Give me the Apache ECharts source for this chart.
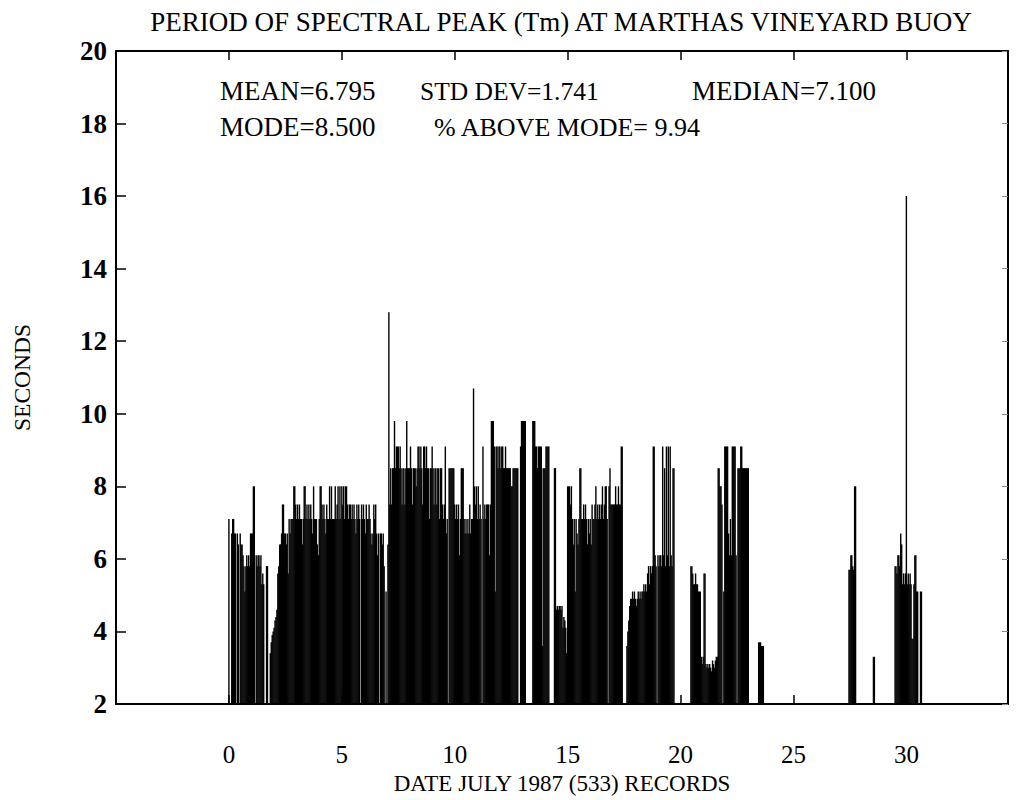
<!DOCTYPE html>
<html><head><meta charset="utf-8">
<script src="https://cdn.jsdelivr.net/npm/echarts@6/dist/echarts.min.js"></script>
<style>html,body{margin:0;background:#fff}#c{width:1020px;height:800px}</style>
</head><body><div id="c"></div>
<script>
// ---- text ----
const chartTitle = 'PERIOD OF SPECTRAL PEAK (Tm) AT MARTHAS VINEYARD BUOY';
const xName = 'DATE JULY 1987 (533) RECORDS';
const yName = 'SECONDS';
const statsRow1 = ['MEAN=6.795', 'STD DEV=1.741', 'MEDIAN=7.100'];
const statsRow2 = ['MODE=8.500', '% ABOVE MODE= 9.94'];

// ---- axes ----
const xMin = -5, xMax = 34.5, xStep = 5;
const xLabelMax = 30;
const yMin = 2, yMax = 20, yStep = 2;

// ---- hourly records (hour index from day 0, value in seconds; null = no record) ----
const seg1Start = 0;
const seg1Values = [
 7.1,null,null,6.7,7.1,7.1,6.7,6.7,null,6.7,
 6.4,null,6.7,6.4,6.4,6.1,5.8,5.1,5.8,6.1,
 5.8,6.1,5.8,6.7,6.7,6.7,8.0,8.0,null,6.1,
 5.8,6.1,6.1,5.8,6.1,5.3,5.6,5.3,null,null,
 5.8,5.8,null,null,3.4,3.7,3.9,4.0,4.1,4.3,
 4.4,4.6,5.6,5.8,6.4,6.4,6.7,7.5,7.5,6.7,
 6.7,6.4,6.7,5.6,7.1,6.7,7.1,7.1,7.1,8.0,
 8.0,7.5,7.1,7.5,7.1,7.5,7.1,7.1,6.4,7.1,
 8.0,8.0,7.1,7.5,7.1,7.5,7.1,7.5,7.1,6.7,
 8.0,7.1,7.1,7.1,6.4,6.1,7.1,8.0,8.0,7.5,
 7.1,7.5,7.1,6.7,7.5,7.1,7.1,8.0,7.1,8.0,
 7.1,7.1,7.1,8.0,7.1,7.5,8.0,7.1,8.0,7.1,
 8.0,7.5,8.0,7.1,8.0,8.0,7.5,7.1,7.5,7.5,
 7.1,7.5,7.1,7.5,7.1,6.7,7.5,7.1,7.5,7.1,
 null,7.5,7.1,7.5,7.1,6.7,7.5,7.1,7.1,7.5,
 7.1,6.7,6.4,6.7,7.5,7.1,7.5,6.7,6.1,6.7,
 null,6.7,6.7,6.4,6.7,5.8,null,5.1,null,6.4,
 12.8,7.5,8.5,7.5,8.5,8.5,9.8,8.5,9.1,9.1,
 9.1,8.5,9.1,8.5,7.5,8.5,8.5,7.5,8.5,9.8,
 8.5,8.5,8.5,9.1,8.5,7.5,8.5,8.5,8.5,8.0,
 8.5,9.1,9.1,8.5,9.1,8.5,7.5,9.1,9.1,8.5,
 9.1,8.5,8.5,7.1,8.5,8.5,9.1,8.5,7.5,8.5,
 8.5,7.5,8.5,8.5,7.1,8.5,8.5,7.5,7.1,7.5,
 9.1,6.7,7.1,null,8.5,8.5,8.5,8.5,8.5,8.5,
 7.5,7.1,7.5,7.1,7.5,6.1,7.1,8.5,8.5,8.5,
 7.1,6.7,7.1,6.7,7.1,6.7,7.5,6.7,7.1,7.1,
 10.7,8.0,7.5,8.0,7.1,8.0,7.1,7.5,7.1,null,
 9.1,7.1,7.5,7.1,7.5,7.5,7.5,6.1,7.5,9.8,
 9.8,9.8,9.1,5.1,9.1,9.1,8.5,9.1,9.1,8.5,
 9.1,9.1,8.5,8.5,9.1,8.5,8.5,8.5,8.5,8.5,
 8.0,8.0,8.5,8.5,8.5,8.5,8.5,8.5,null,null,
 9.1,9.8,9.8,9.8,9.8,9.8,null,null,null,null,
 null,null,null,9.8,9.8,9.8,9.1,9.1,8.5,9.1,
 9.1,9.1,9.1,3.6,8.5,8.5,8.5,9.1,9.1,9.1,
 9.1,null,null,null,null,null,8.5,8.5,4.6,4.7,
 4.6,4.7,4.7,4.6,4.7,4.1,4.4,4.3,4.1,3.4,
 8.0,8.0,8.0,7.5,8.0,7.1,6.4,7.1,5.1,7.1,
 6.7,6.4,7.1,8.5,8.5,7.1,7.1,7.5,7.1,7.5,
 7.1,6.4,7.1,6.7,7.1,6.4,7.5,7.1,7.1,7.5,
 8.0,7.1,7.5,7.1,7.5,7.1,7.5,8.0,7.1,7.5,
 8.0,8.0,7.1,null,8.0,8.5,7.5,7.5,7.5,7.5,
 7.5,8.0,7.5,7.5,8.0,7.5,7.5,9.1,9.1
];
const seg2Start = 423;
const seg2Values = [
 3.6,4.0,4.3,4.7,4.9,4.9,5.1,
 4.9,5.1,4.9,4.7,4.9,5.1,4.9,5.1,4.9,5.1,
 5.1,5.3,5.1,5.3,5.1,5.6,5.8,5.3,5.8,5.6,
 5.8,9.1,9.1,6.1,5.8,null,6.1,5.8,6.1,6.1,
 5.8,9.1,6.1,8.5,5.8,9.1,6.1,9.1,5.8,9.1,
 6.1,5.8,8.5,8.5
];
const seg3Start = 491;
const seg3Values = [
 5.8,5.8,5.6,5.3,5.3,5.6,5.3,5.3,5.1,
 5.1,5.1,3.3,3.1,3.3,5.6,5.6,3.1,3.0,3.1,
 3.0,3.1,3.0,2.9,3.2,3.1,3.0,3.2,3.3,3.3,
 8.5,8.5,8.0,8.0,7.5,null,5.1,9.1,9.1,9.1,
 9.1,6.7,6.1,7.1,6.1,9.1,9.1,9.1,9.1,6.1,
 null,8.5,8.5,8.5,9.1,9.1,8.5,8.5,8.5,8.5,
 8.5,8.5,8.5
];
const seg4Start = 563;
const seg4Values = [3.7,3.7,3.7,3.6,3.6,3.6];
const seg5Start = 659;
const seg5Values = [5.7,5.7,6.1,6.1,5.8,5.7,8.0,8.0];
const seg6Start = 685;
const seg6Values = [3.3,3.3];
const seg7Start = 708;
const seg7Values = [
 5.8,5.8,5.6,6.1,6.1,5.8,6.7,6.4,5.3,5.6,
 5.3,5.6,16.0,5.3,5.6,5.3,5.6,5.3,3.8,3.8,
 5.3,6.1,6.1,5.1,5.1,null,null,5.1,5.1
];

const segments = [
  [seg1Start, seg1Values], [seg2Start, seg2Values], [seg3Start, seg3Values],
  [seg4Start, seg4Values], [seg5Start, seg5Values], [seg6Start, seg6Values],
  [seg7Start, seg7Values]
];
const records = [];
segments.forEach(([start, vals]) => {
  vals.forEach((v, i) => { if (v !== null) records.push([(start + i) / 24, v]); });
});

const FONT = 'Liberation Serif';
const gridL = 116, gridT = 51, gridW = 892, gridH = 657;

const chart = echarts.init(document.getElementById('c'), null, {renderer: 'svg'});

const axisLineStyle = {color: '#000', width: 2};
const tickStyle = {color: '#000', width: 1.5};

function txt(x, y, text, size, align) {
  return {type: 'text', x: x, y: y, silent: true,
    style: {text: text, fontFamily: FONT, fontSize: size, fontWeight: 'normal', fill: '#000',
            align: align, verticalAlign: 'middle'}};
}
const graphics = [
  txt(561, 22, chartTitle, 27, 'center'),
  txt(220, 91, statsRow1[0], 27, 'left'),
  txt(420, 91, statsRow1[1], 25.5, 'left'),
  txt(692, 91, statsRow1[2], 27, 'left'),
  txt(220, 127, statsRow2[0], 27, 'left'),
  txt(434, 127, statsRow2[1], 26, 'left')
];

chart.setOption({
  animation: false,
  backgroundColor: '#fff',
  textStyle: {fontFamily: FONT},
  grid: {left: gridL, top: gridT, width: gridW, height: gridH, containLabel: false},
  xAxis: [
    {
      type: 'value', min: xMin, max: xMax, interval: xStep, position: 'bottom',
      axisLine: {show: true, onZero: false, lineStyle: axisLineStyle},
      axisTick: {show: true, inside: true, length: 9, lineStyle: tickStyle},
      axisLabel: {
        formatter: v => (v >= 0 && v <= xLabelMax) ? String(v) : '',
        color: '#000', fontFamily: FONT, fontSize: 25, margin: 38
      },
      splitLine: {show: false},
      name: xName, nameLocation: 'middle', nameGap: 68,
      nameTextStyle: {color: '#000', fontFamily: FONT, fontSize: 23}
    },
    {
      type: 'value', min: xMin, max: xMax, interval: xStep, position: 'top',
      axisLine: {show: true, onZero: false, lineStyle: axisLineStyle},
      axisTick: {show: true, inside: true, length: 9, lineStyle: tickStyle},
      axisLabel: {show: false}, splitLine: {show: false}
    }
  ],
  yAxis: [
    {
      type: 'value', min: yMin, max: yMax, interval: yStep, position: 'left',
      axisLine: {show: true, onZero: false, lineStyle: axisLineStyle},
      axisTick: {show: true, inside: true, length: 10, lineStyle: tickStyle},
      axisLabel: {color: '#000', fontFamily: FONT, fontSize: 27, fontWeight: 'bold', margin: 9},
      splitLine: {show: false},
      name: yName, nameLocation: 'middle', nameGap: 82, nameRotate: 90,
      nameTextStyle: {color: '#000', fontFamily: FONT, fontSize: 23.5}
    },
    {
      type: 'value', min: yMin, max: yMax, interval: yStep, position: 'right',
      axisLine: {show: true, onZero: false, lineStyle: axisLineStyle},
      axisTick: {show: true, inside: true, length: 6, lineStyle: {color: '#888', width: 1}},
      axisLabel: {show: false}, splitLine: {show: false}
    }
  ],
  graphic: graphics,
  series: [{
    type: 'bar', xAxisIndex: 0, yAxisIndex: 0,
    data: records, barWidth: 1.4, clip: true,
    itemStyle: {color: '#000'}, emphasis: {disabled: true},
    silent: true
  }]
});
</script>
</body></html>
